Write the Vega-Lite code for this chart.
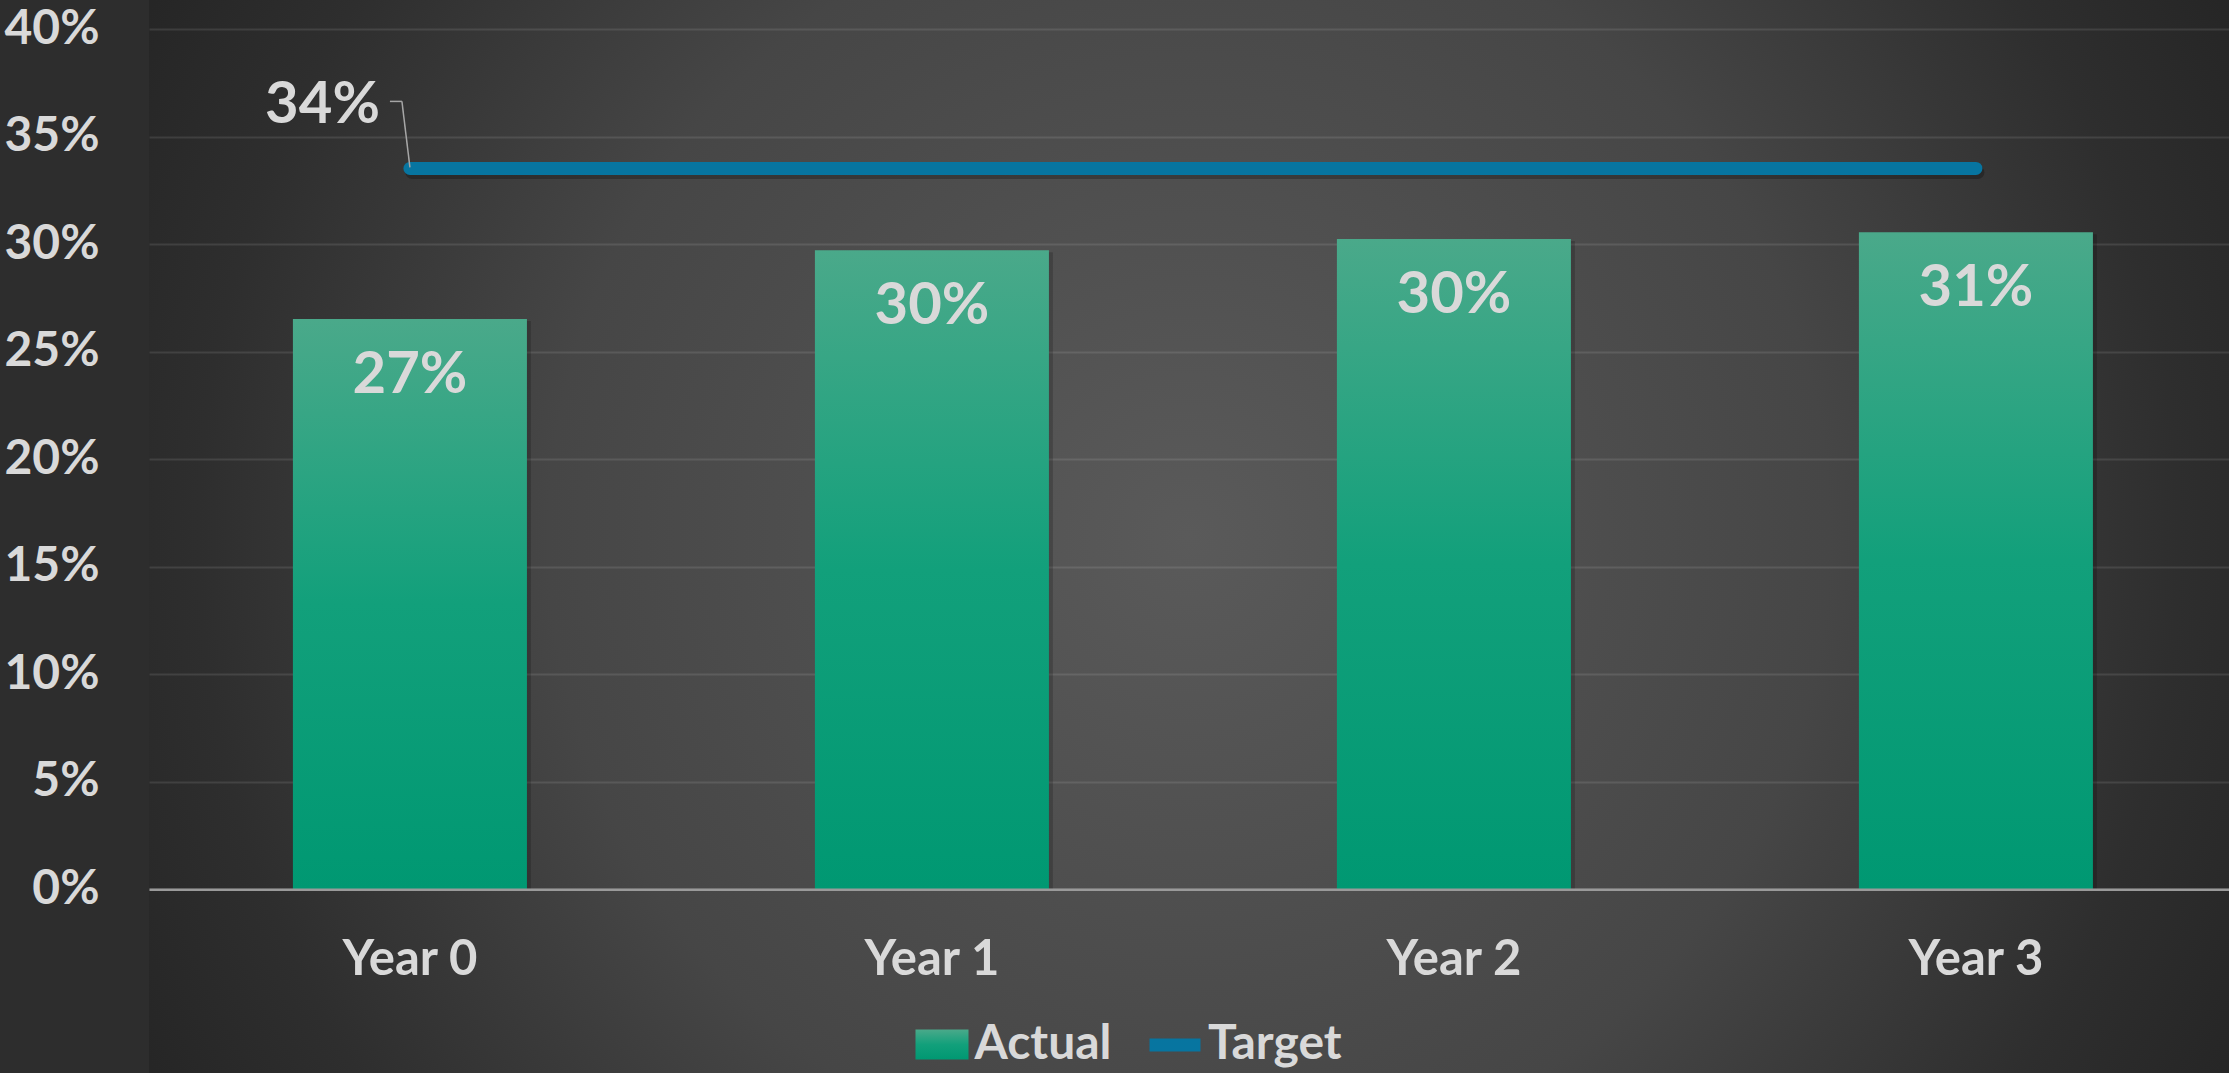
{
  "$schema": "https://vega.github.io/schema/vega-lite/v6.json",
  "width": 2080,
  "height": 1073,
  "autosize": {"type": "none"},
  "padding": {"left": 149, "top": 0, "right": 0, "bottom": 0},
  "background": "#2d2d2d",
  "view": {
    "stroke": null,
    "fill": {
      "gradient": "radial",
      "x1": 0.5, "y1": 0.5, "r1": 0,
      "x2": 0.5, "y2": 0.5, "r2": 0.56,
      "stops": [
        {"offset": 0, "color": "#5a5a5a"},
        {"offset": 0.55, "color": "#464646"},
        {"offset": 0.85, "color": "#2e2e2e"},
        {"offset": 1, "color": "#262626"}
      ]
    }
  },
  "config": {"font": "Lato", "text": {"font": "Lato"}},
  "data": {
    "values": [
      {"year": "Year 0", "actual": 0.2652, "target": 0.3352},
      {"year": "Year 1", "actual": 0.2972, "target": 0.3352},
      {"year": "Year 2", "actual": 0.3024, "target": 0.3352},
      {"year": "Year 3", "actual": 0.3055, "target": 0.3352}
    ]
  },
  "encoding": {
    "x": {
      "field": "year",
      "type": "nominal",
      "sort": null,
      "scale": {"paddingInner": 0.5517, "paddingOuter": 0.2682, "align": 0.514},
      "axis": {
        "title": null,
        "orient": "bottom",
        "offset": -183.7,
        "labelAngle": 0,
        "ticks": false,
        "tickSize": 0,
        "labelPadding": 46,
        "labelFont": "Lato",
        "labelFontSize": 49,
        "labelFontWeight": "bold",
        "labelColor": "#d9d9d9",
        "domainColor": "#9a9a9a",
        "domainWidth": 2.5,
        "grid": false,
        "zindex": 1
      }
    }
  },
  "layer": [
    {
      "mark": {"type": "bar", "fill": "#000000", "opacity": 0.18, "strokeWidth": 0, "xOffset": 4, "yOffset": 2},
      "encoding": {
        "y": {
          "field": "actual",
          "type": "quantitative",
          "scale": {"domain": [-0.0854, 0.4135], "nice": false, "zero": false},
          "axis": {
            "title": null,
            "values": [0, 0.05, 0.1, 0.15, 0.2, 0.25, 0.3, 0.35, 0.4],
            "format": ".0%",
            "domain": false,
            "ticks": false,
            "tickSize": 0,
            "labelPadding": 50,
            "labelFont": "Lato",
            "labelFontSize": 48,
            "labelFontWeight": "bold",
            "labelColor": "#d9d9d9",
            "gridColor": "#ffffff",
            "gridOpacity": 0.1,
            "gridWidth": 2
          }
        },
        "y2": {"datum": 0}
      }
    },
    {
      "mark": {
        "type": "bar",
        "strokeWidth": 0,
        "fill": {
          "gradient": "linear",
          "x1": 0, "y1": 0, "x2": 0, "y2": 1,
          "stops": [
            {"offset": 0, "color": "#4aa98a"},
            {"offset": 0.5, "color": "#12a07b"},
            {"offset": 1, "color": "#009872"}
          ]
        }
      },
      "encoding": {
        "y": {
          "field": "actual",
          "type": "quantitative",
          "title": null,
          "scale": {"domain": [-0.0854, 0.4135], "nice": false, "zero": false}
        },
        "y2": {"datum": 0},
        "stroke": {
          "datum": "Actual",
          "scale": {"domain": ["Actual"], "range": ["#1fa37f"]},
          "legend": {
            "title": null,
            "orient": "none",
            "legendX": 766.5,
            "legendY": 1018,
            "padding": 0,
            "symbolType": "M-1,-0.566H1V0.566H-1Z",
            "symbolSize": 2809,
            "symbolStrokeWidth": 0,
            "symbolOpacity": 1,
            "labelFont": "Lato",
            "labelFontSize": 48,
            "labelFontWeight": "bold",
            "labelColor": "#d9d9d9",
            "labelOffset": 6
          }
        }
      }
    },
    {
      "mark": {"type": "line", "strokeWidth": 13, "strokeCap": "round", "color": "#000000", "opacity": 0.25, "yOffset": 4, "xOffset": 2},
      "encoding": {
        "y": {
          "field": "target",
          "type": "quantitative",
          "title": null,
          "scale": {"domain": [-0.0854, 0.4135], "nice": false, "zero": false}
        }
      }
    },
    {
      "mark": {"type": "line", "strokeWidth": 13, "strokeCap": "round"},
      "encoding": {
        "y": {
          "field": "target",
          "type": "quantitative",
          "title": null,
          "scale": {"domain": [-0.0854, 0.4135], "nice": false, "zero": false}
        },
        "color": {
          "datum": "Target",
          "scale": {"domain": ["Target"], "range": ["#0775a0"]},
          "legend": {
            "title": null,
            "orient": "none",
            "legendX": 994,
            "legendY": 1013,
            "padding": 0,
            "symbolType": "stroke",
            "symbolSize": 2601,
            "symbolStrokeWidth": 13,
            "symbolOpacity": 1,
            "labelFont": "Lato",
            "labelFontSize": 48,
            "labelFontWeight": "bold",
            "labelColor": "#d9d9d9",
            "labelOffset": 1
          }
        }
      }
    },
    {
      "mark": {
        "type": "text",
        "font": "Lato",
        "fontSize": 58,
        "fontWeight": "bold",
        "color": "#d9d9d9",
        "baseline": "alphabetic",
        "dy": 74
      },
      "encoding": {
        "y": {
          "field": "actual",
          "type": "quantitative",
          "title": null,
          "scale": {"domain": [-0.0854, 0.4135], "nice": false, "zero": false}
        },
        "text": {"field": "actual", "type": "quantitative", "format": ".0%"}
      }
    },
    {
      "transform": [{"filter": "datum.year === 'Year 0'"}],
      "mark": {
        "type": "text",
        "font": "Lato",
        "fontSize": 58,
        "fontWeight": "bold",
        "color": "#d9d9d9",
        "baseline": "alphabetic",
        "align": "right",
        "dx": -30,
        "dy": -45
      },
      "encoding": {
        "y": {
          "field": "target",
          "type": "quantitative",
          "title": null,
          "scale": {"domain": [-0.0854, 0.4135], "nice": false, "zero": false}
        },
        "text": {"field": "target", "type": "quantitative", "format": ".0%"}
      }
    },
    {
      "transform": [{"filter": "datum.year === 'Year 0'"}],
      "mark": {"type": "rule", "color": "#a6a6a6", "strokeWidth": 1.5, "yOffset": -1, "x2Offset": -8, "y2Offset": -67},
      "encoding": {
        "x2": {"field": "year"},
        "y": {
          "field": "target",
          "type": "quantitative",
          "title": null,
          "scale": {"domain": [-0.0854, 0.4135], "nice": false, "zero": false}
        },
        "y2": {"field": "target"}
      }
    },
    {
      "transform": [{"filter": "datum.year === 'Year 0'"}],
      "mark": {"type": "rule", "color": "#a6a6a6", "strokeWidth": 1.5, "xOffset": -8, "x2Offset": -20, "yOffset": -67, "y2Offset": -67},
      "encoding": {
        "x2": {"field": "year"},
        "y": {
          "field": "target",
          "type": "quantitative",
          "title": null,
          "scale": {"domain": [-0.0854, 0.4135], "nice": false, "zero": false}
        },
        "y2": {"field": "target"}
      }
    }
  ]
}
